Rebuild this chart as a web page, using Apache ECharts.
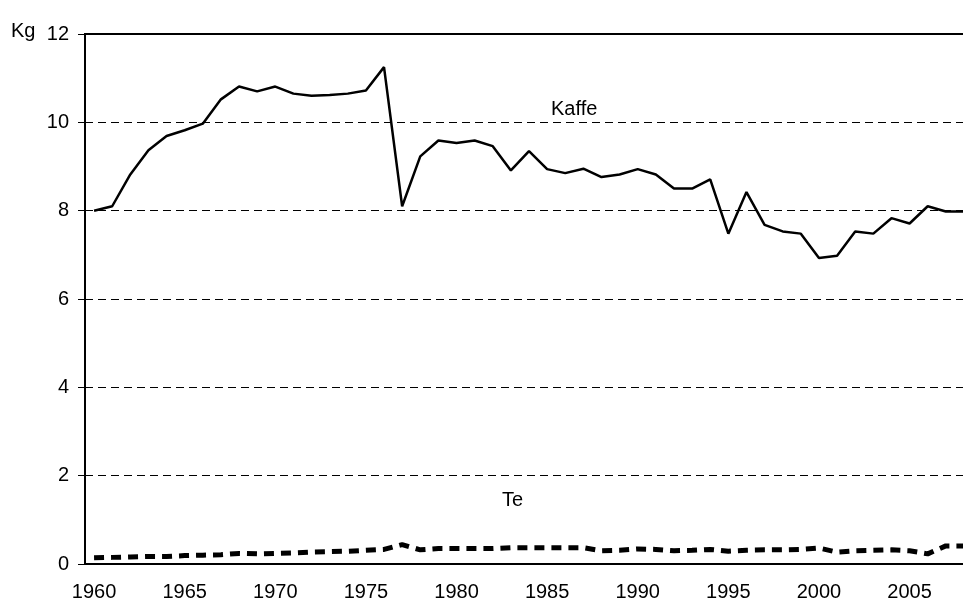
<!DOCTYPE html>
<html>
<head>
    <meta charset="UTF-8">
    <title>Kaffe og te</title>
    <script src="https://cdn.jsdelivr.net/npm/echarts@6/dist/echarts.min.js"></script>
    <style>
        *{margin:0;padding:0}
        html, body{ width:100%; height:100%; background:#fff; }
        #main{ width:963px; height:604px; }
    </style>
</head>
<body>
    <div id="main"></div>
    <script type="text/javascript">
        var years = [];
        for (var y = 1960; y <= 2008; y++) years.push(String(y));

        var kaffe = [
            8.0, 8.1, 8.82, 9.37, 9.69, 9.82, 9.97, 10.52, 10.81, 10.70,
            10.81, 10.65, 10.60, 10.62, 10.65, 10.72, 11.25, 8.1, 9.23, 9.59,
            9.53, 9.59, 9.46, 8.91, 9.35, 8.94, 8.85, 8.95, 8.76, 8.82,
            8.94, 8.82, 8.50, 8.50, 8.71, 7.48, 8.42, 7.68, 7.53, 7.48,
            6.93, 6.98, 7.53, 7.48, 7.83, 7.71, 8.10, 7.98, 7.98
        ];
        var te = [
            0.14, 0.15, 0.16, 0.17, 0.17, 0.19, 0.20, 0.21, 0.24, 0.23,
            0.24, 0.25, 0.27, 0.28, 0.29, 0.31, 0.33, 0.44, 0.32, 0.35,
            0.35, 0.35, 0.35, 0.37, 0.37, 0.37, 0.37, 0.37, 0.30, 0.31,
            0.34, 0.33, 0.30, 0.31, 0.33, 0.29, 0.31, 0.32, 0.32, 0.33,
            0.36, 0.27, 0.30, 0.31, 0.32, 0.30, 0.23, 0.41, 0.41
        ];

        var font = 'Liberation Sans, Arial, sans-serif';
        var myChart = echarts.init(document.getElementById('main'));
        var every5 = function (i) { return i % 5 === 0; };

        var option = {
            animation: false,
            backgroundColor: '#fff',
            grid: {
                left: 85, top: 34, width: 888, height: 530,
                outerBoundsMode: 'none',
                containLabel: false,
                show: true, borderColor: '#000', borderWidth: 2
            },
            xAxis: {
                type: 'category',
                data: years,
                boundaryGap: true,
                axisLine: { lineStyle: { color: '#000', width: 2 } },
                axisTick: { interval: every5, length: 7, lineStyle: { color: '#000' } },
                axisLabel: { interval: every5, margin: 18, color: '#000', fontSize: 20, fontFamily: font }
            },
            yAxis: {
                type: 'value',
                min: 0, max: 12, interval: 2,
                axisLine: { show: true, lineStyle: { color: '#000', width: 2 } },
                axisTick: { show: true, length: 7, lineStyle: { color: '#000' } },
                axisLabel: { margin: 16, color: '#000', fontSize: 20, fontFamily: font },
                splitLine: { lineStyle: { color: '#000', type: [8, 5], width: 1 } }
            },
            graphic: [
                { type: 'text', left: 11, top: 21, style: { text: 'Kg', fill: '#000', font: '20px ' + font } },
                { type: 'text', left: 551, top: 99, style: { text: 'Kaffe', fill: '#000', font: '20px ' + font } },
                { type: 'text', left: 502, top: 490, style: { text: 'Te', fill: '#000', font: '20px ' + font } }
            ],
            series: [
                {
                    name: 'Kaffe', type: 'line', data: kaffe,
                    symbol: 'none',
                    lineStyle: { color: '#000', width: 2.5 }
                },
                {
                    name: 'Te', type: 'line', data: te,
                    symbol: 'none',
                    lineStyle: { color: '#000', width: 5, type: [10, 7] }
                }
            ]
        };
        myChart.setOption(option);
    </script>
</body>
</html>
